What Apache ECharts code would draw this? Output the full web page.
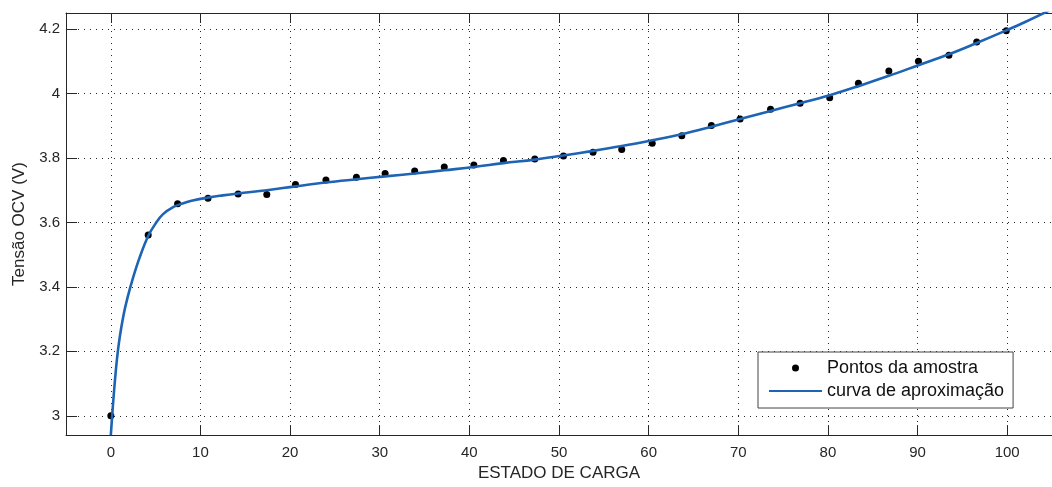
<!DOCTYPE html>
<html>
<head>
<meta charset="utf-8">
<script src="https://cdn.jsdelivr.net/npm/echarts@6/dist/echarts.min.js"></script>
<style>
  html, body { margin: 0; padding: 0; background: #fff; }
  #chart { width: 1052px; height: 487px; }
</style>
</head>
<body>
<div id="chart"></div>
<script>
// sample points (estado de carga, tensão)
const sampleX = [0, 4.17, 7.45, 10.84, 14.2, 17.4, 20.6, 24.0, 27.4, 30.6, 33.9, 37.2, 40.5, 43.8, 47.3, 50.5,
  53.8, 57.0, 60.4, 63.7, 67.0, 70.2, 73.6, 76.9, 80.2, 83.4, 86.8, 90.1, 93.5, 96.6, 99.9]
const sampleY = [3.0, 3.561, 3.658, 3.675, 3.688, 3.687, 3.718, 3.732, 3.740, 3.752, 3.760, 3.772, 3.778, 3.792, 3.797, 3.806,
  3.818, 3.826, 3.846, 3.869, 3.901, 3.921, 3.951, 3.970, 3.987, 4.032, 4.070, 4.100, 4.119, 4.160, 4.195]

// fitted curve
const curveX = [0, 0.15, 0.4, 0.7, 1.0, 1.4, 1.85, 2.5, 3.2, 4.17, 5, 5.8, 7, 8, 9, 10.8, 12.5, 14.2, 17.4, 20.6, 24,
  27.4, 30.6, 33.9, 37.2, 40.5, 43.8, 47.3, 50.5, 53.8, 57, 60.4, 63.7, 67, 70.2, 73.6, 76.9, 80.2, 83.4,
  86.8, 90.1, 93.5, 96.6, 99.9, 102, 105]
const curveY = [2.94, 3.0, 3.09, 3.18, 3.245, 3.31, 3.365, 3.43, 3.49, 3.558, 3.597, 3.625, 3.648, 3.659, 3.667, 3.677, 3.684,
  3.690, 3.700, 3.712, 3.724, 3.734, 3.743, 3.752, 3.762, 3.772, 3.784, 3.795, 3.808, 3.822, 3.837, 3.855,
  3.874, 3.897, 3.921, 3.946, 3.970, 3.995, 4.023, 4.055, 4.088, 4.122, 4.157, 4.196, 4.222, 4.262]

const xTicks = [0, 10, 20, 30, 40, 50, 60, 70, 80, 90, 100]
const yTicks = [3, 3.2, 3.4, 3.6, 3.8, 4, 4.2]

const axisColor = '#262626'
const font = 'Liberation Sans, Arial, sans-serif'

const chart = echarts.init(document.getElementById('chart'))

chart.setOption({
  animation: false,
  grid: {
    left: 66,
    right: -8,
    top: 13,
    bottom: 46,
  },
  legend: {
    left: 758,
    top: 352,
    orient: 'vertical',
    backgroundColor: '#fff',
    borderColor: '#444',
    borderWidth: 1,
    padding: [6, 9, 7, 10],
    itemWidth: 53,
    itemHeight: 7,
    itemGap: 3,
    itemTextGap: 4,
    textStyle: {
      fontFamily: font,
      fontSize: 18,
      lineHeight: 20,
      color: '#111',
    },
    data: [
      { name: 'Pontos da amostra' },
      { name: 'curva de aproximação', itemStyle: { opacity: 0 } },
    ],
  },
  xAxis: [
    {
      type: 'value',
      min: -5,
      max: 105,
      name: 'ESTADO DE CARGA',
      nameLocation: 'middle',
      nameGap: 25,
      nameTextStyle: { fontFamily: font, fontSize: 17, color: axisColor },
      axisLine: { show: true, onZero: false, lineStyle: { color: axisColor, width: 1 } },
      axisTick: {
        show: true,
        inside: true,
        length: 10,
        customValues: xTicks,
        lineStyle: { color: axisColor },
      },
      axisLabel: {
        margin: 10,
        customValues: xTicks,
        fontFamily: font,
        fontSize: 15,
        color: axisColor,
      },
      splitLine: {
        show: true,
        lineStyle: { color: axisColor, type: [1, 5], width: 1 },
      },
    },
    {
      type: 'value',
      position: 'top',
      min: -5,
      max: 105,
      axisLine: { show: true, onZero: false, lineStyle: { color: axisColor, width: 1 } },
      axisTick: {
        show: true,
        inside: true,
        length: 10,
        customValues: xTicks,
        lineStyle: { color: axisColor },
      },
      axisLabel: { show: false },
      splitLine: { show: false },
    },
  ],
  yAxis: {
    type: 'value',
    min: 2.94,
    max: 4.25,
    name: 'Tensão OCV (V)',
    nameLocation: 'middle',
    nameGap: 36,
    nameTextStyle: { fontFamily: font, fontSize: 17, color: axisColor },
    axisLine: { show: true, onZero: false, lineStyle: { color: axisColor, width: 1 } },
    axisTick: {
      show: true,
      inside: true,
      length: 11,
      customValues: yTicks,
      lineStyle: { color: axisColor },
    },
    axisLabel: {
      margin: 6,
      customValues: yTicks,
      fontFamily: font,
      fontSize: 15,
      color: axisColor,
      formatter: (v) => String(Math.round(v * 10) / 10),
    },
    splitLine: {
      show: true,
      lineStyle: { color: axisColor, type: [1, 5], width: 1 },
    },
  },
  series: [
    {
      name: 'Pontos da amostra',
      type: 'scatter',
      symbol: 'circle',
      symbolSize: 7,
      itemStyle: { color: '#000', opacity: 1 },
      data: sampleX.map((x, i) => [x, sampleY[i]]),
    },
    {
      name: 'curva de aproximação',
      type: 'line',
      symbol: 'none',
      smooth: 0.4,
      lineStyle: { color: '#1e64b4', width: 2.6 },
      itemStyle: { color: '#1e64b4' },
      data: curveX.map((x, i) => [x, curveY[i]]),
    },
  ],
})
</script>
</body>
</html>
